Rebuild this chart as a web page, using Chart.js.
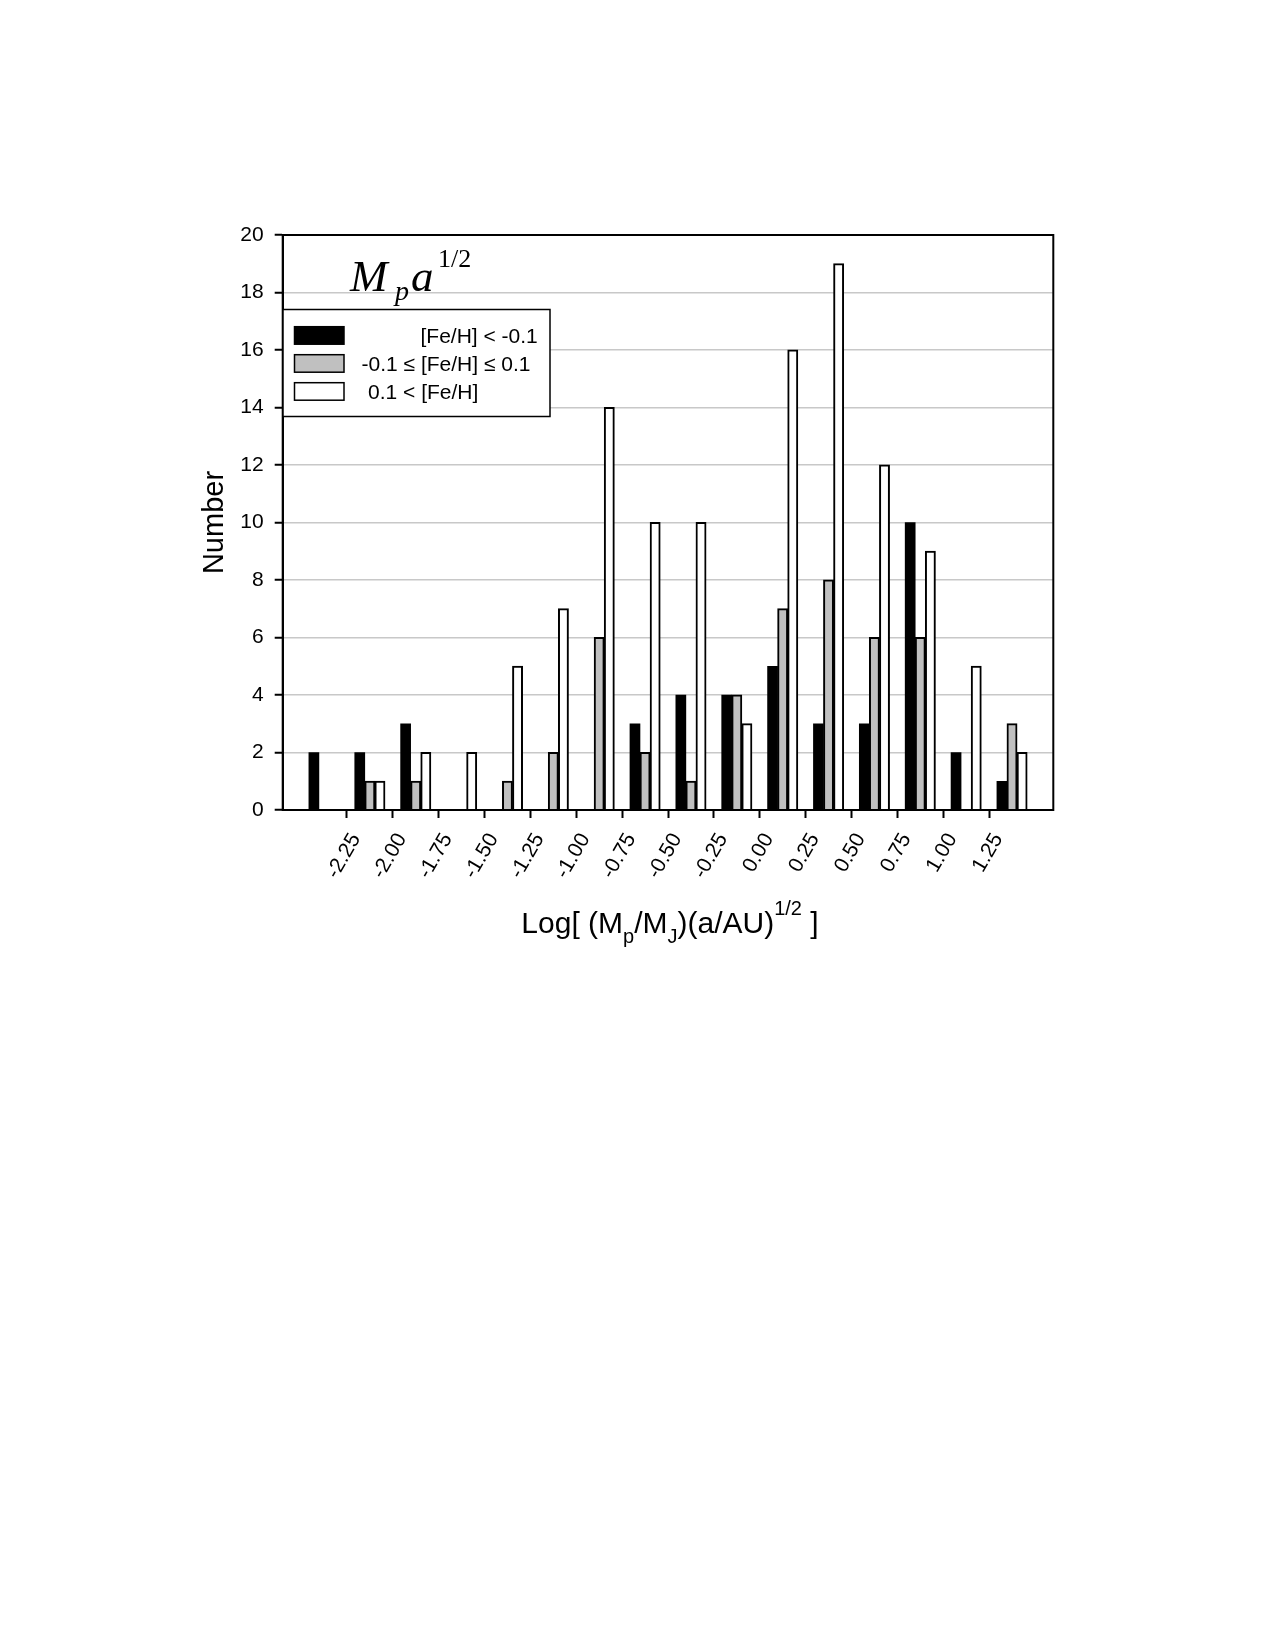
<!DOCTYPE html>
<html>
<head>
<meta charset="utf-8">
<script src="https://cdn.jsdelivr.net/npm/chart.js@4.4.1/dist/chart.umd.min.js"></script>
<style>
  html, body { margin: 0; padding: 0; background: #fff; }
  canvas { display: block; }
</style>
</head>
<body>
<canvas id="hist" width="1275" height="1650"></canvas>
<script>
// bin centres of Log[(Mp/MJ)(a/AU)^1/2], bins are 0.25 wide
const binCentres = [-2.375, -2.125, -1.875, -1.625, -1.375, -1.125, -0.875, -0.625,
                    -0.375, -0.125, 0.125, 0.375, 0.625, 0.875, 1.125, 1.375]
const metalPoor  = [2, 2, 3, 0, 0, 0, 0, 3, 4, 4, 5, 3, 3, 10, 2, 1]
const solarLike  = [0, 1, 1, 0, 1, 2, 6, 2, 1, 4, 7, 8, 6, 6, 0, 3]
const metalRich  = [0, 1, 2, 2, 5, 7, 14, 10, 10, 3, 16, 19, 12, 9, 5, 2]

const tickValues = [-2.25, -2.0, -1.75, -1.5, -1.25, -1.0, -0.75, -0.5, -0.25,
                    0, 0.25, 0.5, 0.75, 1.0, 1.25]
const tickLabels = ['-2.25', '-2.00', '-1.75', '-1.50', '-1.25', '-1.00', '-0.75', '-0.50',
                    '-0.25', '0.00', '0.25', '0.50', '0.75', '1.00', '1.25']
const legendLabels = ['[Fe/H] < -0.1', '-0.1 \u2264 [Fe/H] \u2264 0.1', '0.1 < [Fe/H]']

const SANS = '"Liberation Sans", Arial, sans-serif'
const SERIF = '"Liberation Serif", "Times New Roman", serif'
const GRAY = '#c0c0c0'

// empty bins get no bar at all
function points(vals) {
  return binCentres.map((x, i) => ({ x, y: vals[i] === 0 ? null : vals[i] }))
}

function bars(label, fill, vals, outlined) {
  return {
    label,
    data: points(vals),
    backgroundColor: fill,
    borderColor: '#000',
    // solid black bars need no outline (avoids antialias seams)
    borderWidth: outlined ? 2 : 0,
    inflateAmount: outlined ? 0.4 : 0.3,
    borderSkipped: 'start',
    categoryPercentage: 0.66,
    barPercentage: 1.0,
  }
}

// text made of runs, some of them sub- or superscript
function runsWidth(ctx, runs) {
  let w = 0
  for (const r of runs) { ctx.font = r.font; w += ctx.measureText(r.t).width }
  return w
}
function drawRuns(ctx, runs, x, y) {
  for (const r of runs) {
    ctx.font = r.font
    ctx.fillText(r.t, x, y + (r.dy || 0))
    x += ctx.measureText(r.t).width
  }
}

const decorations = {
  id: 'decorations',
  afterDraw(chart) {
    const { ctx, chartArea: a } = chart
    ctx.save()
    ctx.fillStyle = '#000'
    ctx.strokeStyle = '#000'

    // plot frame
    ctx.lineWidth = 2
    ctx.strokeRect(a.left, a.top, a.right - a.left, a.bottom - a.top)

    // Mp a^(1/2) label
    ctx.textAlign = 'left'
    ctx.textBaseline = 'alphabetic'
    ctx.font = 'italic 45px ' + SERIF
    ctx.fillText('M', 350, 290.7)
    ctx.font = 'italic 28px ' + SERIF
    ctx.fillText('p', 395, 300)
    ctx.font = 'italic 45px ' + SERIF
    ctx.fillText('a', 411, 290.7)
    ctx.font = '26px ' + SERIF
    ctx.fillText('1/2', 438, 267)

    // legend
    ctx.lineWidth = 1.5
    ctx.fillStyle = '#fff'
    ctx.fillRect(283, 309.5, 267, 107)
    ctx.strokeRect(283, 309.5, 267, 107)
    const fills = ['#000', GRAY, '#fff']
    const textX = [420.5, 361.5, 368]
    for (let i = 0; i < 3; i++) {
      const top = 326.7 + i * 28
      ctx.fillStyle = fills[i]
      ctx.fillRect(294.5, top, 49.5, 17.5)
      ctx.strokeRect(294.5, top, 49.5, 17.5)
      ctx.fillStyle = '#000'
      ctx.font = '21px ' + SANS
      ctx.fillText(legendLabels[i], textX[i], top + 16.5)
    }

    // x title
    const big = '30px ' + SANS, small = '20px ' + SANS
    const xt = [
      { t: 'Log[ (M', font: big },
      { t: 'p', font: small, dy: 10 },
      { t: '/M', font: big },
      { t: 'J', font: small, dy: 10 },
      { t: ')(a/AU)', font: big },
      { t: '1/2', font: small, dy: -18 },
      { t: ' ]', font: big },
    ]
    const cx = (a.left + a.right) / 2
    drawRuns(ctx, xt, cx - runsWidth(ctx, xt) / 2 + 2, 933)

    // y title
    ctx.translate(222.7, (a.top + a.bottom) / 2)
    ctx.rotate(-Math.PI / 2)
    ctx.textAlign = 'center'
    ctx.font = '29px ' + SANS
    ctx.fillText('Number', 0, 0)
    ctx.restore()
  },
}

new Chart(document.getElementById('hist'), {
  type: 'bar',
  data: {
    datasets: [
      bars('[Fe/H] < -0.1', '#000', metalPoor, false),
      bars('-0.1 \u2264 [Fe/H] \u2264 0.1', GRAY, solarLike, true),
      bars('0.1 < [Fe/H]', '#fff', metalRich, true),
    ],
  },
  options: {
    responsive: false,
    devicePixelRatio: 1,
    animation: false,
    layout: { padding: { left: 0, top: 235, right: 221.7, bottom: 0 } },
    plugins: { legend: { display: false }, tooltip: { enabled: false } },
    scales: {
      x: {
        type: 'linear',
        min: -2.6,
        max: 1.6,
        offset: false,
        afterBuildTicks: s => { s.ticks = tickValues.map(v => ({ value: v })) },
        afterFit: s => { s.height = 840 },
        ticks: {
          color: '#000',
          font: { family: SANS, size: 21 },
          minRotation: 60,
          maxRotation: 60,
          padding: 11,
          labelOffset: 9,
          autoSkip: false,
          callback: (v, i) => tickLabels[i],
        },
        grid: {
          offset: false,
          drawOnChartArea: false,
          drawTicks: true,
          tickLength: 8,
          tickColor: '#000',
          tickWidth: 2,
        },
        border: { display: true, color: '#000', width: 2 },
      },
      y: {
        min: 0,
        max: 20,
        afterFit: s => { s.width = 282.7 },
        ticks: {
          stepSize: 2,
          color: '#000',
          font: { family: SANS, size: 21 },
          padding: 11,
        },
        grid: {
          color: '#c8c8c8',
          lineWidth: 1.5,
          tickLength: 8,
          tickColor: '#000',
          tickWidth: 2,
        },
        border: { display: true, color: '#000', width: 2 },
      },
    },
  },
  plugins: [decorations],
})
</script>
</body>
</html>
